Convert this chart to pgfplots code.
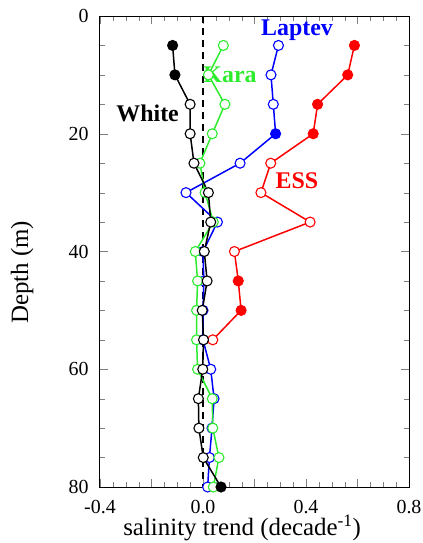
\documentclass[border=0pt]{standalone}
\usepackage{pgfplots}
\pgfplotsset{compat=1.18}
\usepackage{pgfplotstable}
\usepackage{fontspec}
\setmainfont{Liberation Serif}

\definecolor{kgreen}{RGB}{45,235,45}

% depth (m), salinity trend (1/decade), marker: o = open, f = filled
\pgfplotstableread{
d x f
5 -0.118 f
10 -0.109 f
15 -0.050 o
20 -0.050 o
25 -0.035 o
30 0.021 o
35 0.030 o
40 0.005 o
45 0.016 o
50 -0.003 o
55 0.002 o
60 -0.001 o
65 -0.018 o
70 -0.016 o
75 0.001 o
80 0.070 f
}\white

\pgfplotstableread{
d x f
5 0.079 o
10 0.021 o
15 0.085 o
20 0.036 o
25 -0.012 o
30 0.008 o
35 0.040 o
40 -0.030 o
45 -0.021 o
50 -0.025 o
55 -0.025 o
60 -0.021 o
65 0.036 o
70 0.038 o
75 0.062 o
80 0.040 o
}\kara

\pgfplotstableread{
d x f
5 0.293 o
10 0.264 o
15 0.273 o
20 0.282 f
25 0.144 o
30 -0.066 o
35 0.056 o
40 0.000 o
45 0.003 o
50 0.000 o
55 0.000 o
60 0.030 o
65 0.043 o
70 0.035 o
75 0.025 o
80 0.018 o
}\laptev

\pgfplotstableread{
d x f
5 0.588 f
10 0.562 f
15 0.445 f
20 0.428 f
25 0.263 o
30 0.225 o
35 0.416 o
40 0.122 o
45 0.137 f
50 0.148 f
55 0.038 o
}\ess

\pgfplotsset{
  prof/.style={
    color=#1, line width=1.5bp, mark size=5bp,
    scatter, scatter src=explicit symbolic,
    scatter/classes={
      o={mark=*, draw=#1, fill=white, line width=1.1bp},
      f={mark=*, draw=#1, fill=#1, line width=1.1bp}}
  }
}

\begin{document}
\begin{tikzpicture}
% page: 100bp left of the axis box, 56bp below, 14bp right, 16bp above
\useasboundingbox (-100bp,-56bp) rectangle (323bp,487bp);
\begin{axis}[
  at={(0,0)}, anchor=south west,
  scale only axis,
  width=309bp, height=471bp,
  xmin=-0.4, xmax=0.8,
  ymin=0, ymax=80,
  y dir=reverse,
  xtick={-0.4,-0.2,...,0.8},
  xticklabels={-0.4,,0.0,,0.4,,0.8},
  minor x tick num=3,
  ytick={0,20,40,60,80},
  minor y tick num=3,
  major tick length=8bp,
  minor tick length=5bp,
  axis line style={line width=1bp},
  /pgf/number format/assume math mode=true,
  ticklabel style={font=\fontsize{20}{24}\selectfont},
  xticklabel style={yshift=-10bp},
  yticklabel style={xshift=-8bp},
  xlabel={salinity trend (decade\textsuperscript{-1})},
  ylabel={Depth (m)},
  every axis x label/.style={at={(axis description cs:0.46,-0.104)}, anchor=base,
    font=\fontsize{25}{30}\selectfont},
  every axis y label/.style={at={(axis description cs:-0.252,0.456)}, rotate=90, anchor=center,
    font=\fontsize{25}{30}\selectfont},
]
\addplot[black, dashed, line width=2bp, dash pattern=on 7bp off 5bp] coordinates {(0,0) (0,80)};
\addplot[prof=red] table[x=x, y=d, meta=f] {\ess};
\addplot[prof=blue] table[x=x, y=d, meta=f] {\laptev};
\addplot[prof=kgreen] table[x=x, y=d, meta=f] {\kara};
\addplot[prof=black] table[x=x, y=d, meta=f] {\white};

\node[font=\bfseries\fontsize{24}{28}\selectfont, text=blue] at (axis cs:0.365,2.4) {Laptev};
\node[font=\bfseries\fontsize{24}{28}\selectfont, text=kgreen] at (axis cs:0.105,10) {Kara};
\node[font=\bfseries\fontsize{24}{28}\selectfont, text=black] at (axis cs:-0.215,16.5) {White};
\node[font=\bfseries\fontsize{24}{28}\selectfont, text=red] at (axis cs:0.365,28) {ESS};
\end{axis}
\end{tikzpicture}
\end{document}
